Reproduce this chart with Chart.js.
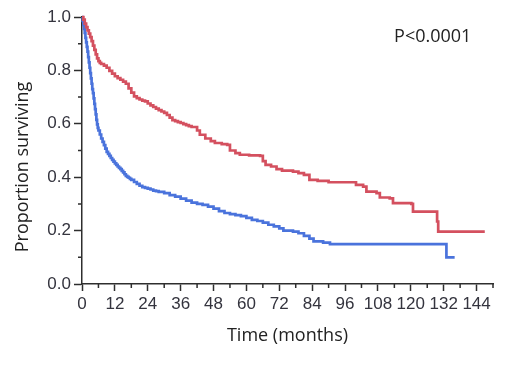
<!DOCTYPE html>
<html>
<head>
<meta charset="utf-8">
<script src="https://cdn.jsdelivr.net/npm/chart.js@4.4.0/dist/chart.umd.min.js"></script>
<style>
  html, body { margin: 0; padding: 0; background: #fff; }
  canvas { display: block; }
</style>
</head>
<body>
<canvas id="kmChart" width="520" height="370"></canvas>
<script>
// Kaplan-Meier curves (months, proportion surviving)
const redMonths = [0, 0.5, 1, 1.5, 2, 2.5, 3, 3.5, 4, 4.5, 5, 5.5, 6, 6.5, 7, 8, 9, 10, 11, 12,
  13, 14, 15, 16, 17, 18, 19, 20, 21, 22, 23, 24, 25, 26, 27, 28, 29, 30, 31, 32,
  33, 34, 35, 36, 37, 38, 39, 40, 42, 43, 45, 47, 48.5, 51, 53, 54, 56, 57.6, 61, 65,
  66, 67, 69, 71, 73, 77, 79, 81, 83, 86, 90, 100, 102.6, 103.8, 107.5, 108.7, 112.3, 113.5, 120.2, 120.8,
  129.6, 130, 147];
const redSurvival = [1, 0.99, 0.975, 0.962, 0.95, 0.938, 0.925, 0.91, 0.893, 0.877, 0.86, 0.845, 0.835, 0.828, 0.824, 0.818, 0.81, 0.798, 0.788, 0.778,
  0.771, 0.765, 0.758, 0.75, 0.733, 0.717, 0.703, 0.696, 0.691, 0.687, 0.684, 0.676, 0.669, 0.663, 0.657, 0.651, 0.646, 0.641, 0.633, 0.623,
  0.614, 0.61, 0.606, 0.603, 0.599, 0.595, 0.591, 0.588, 0.575, 0.559, 0.545, 0.535, 0.528, 0.524, 0.521, 0.5, 0.49, 0.484, 0.482, 0.48,
  0.46, 0.446, 0.44, 0.43, 0.425, 0.421, 0.415, 0.409, 0.39, 0.386, 0.381, 0.371, 0.365, 0.346, 0.34, 0.324, 0.321, 0.303, 0.3, 0.271,
  0.234, 0.196, 0.196];

const blueMonths = [0, 0.25, 0.5, 0.75, 1, 1.25, 1.5, 1.75, 2, 2.25, 2.5, 2.75, 3, 3.25, 3.5, 3.75, 4, 4.25, 4.5, 4.75,
  5, 5.25, 5.5, 5.75, 6, 6.5, 7, 7.5, 8, 8.5, 9, 9.5, 10, 10.5, 11, 11.5, 12, 12.5, 13, 13.5,
  14, 14.5, 15, 15.5, 16, 16.5, 17, 17.5, 18, 19, 20, 21, 22, 23, 24, 25, 26, 27, 28, 30,
  32, 34, 36, 38, 40, 42, 44, 46, 48, 50, 52, 54, 56, 58, 60, 62, 64, 66, 68, 70,
  72, 73.5, 77, 79, 81, 83, 84.5, 88, 90.5, 133, 136];
const blueSurvival = [1, 0.985, 0.97, 0.955, 0.94, 0.922, 0.905, 0.888, 0.87, 0.85, 0.83, 0.81, 0.79, 0.77, 0.75, 0.73, 0.715, 0.695, 0.675, 0.655,
  0.635, 0.615, 0.598, 0.585, 0.575, 0.56, 0.545, 0.532, 0.52, 0.507, 0.495, 0.487, 0.48, 0.472, 0.465, 0.458, 0.452, 0.446, 0.44, 0.435,
  0.43, 0.424, 0.418, 0.411, 0.405, 0.401, 0.398, 0.394, 0.39, 0.382, 0.375, 0.368, 0.363, 0.36, 0.357, 0.354, 0.35, 0.348, 0.345, 0.34,
  0.333, 0.327, 0.32, 0.312, 0.305, 0.3, 0.296, 0.29, 0.282, 0.273, 0.266, 0.262, 0.258, 0.254, 0.248, 0.24, 0.236, 0.23, 0.222, 0.216,
  0.208, 0.2, 0.196, 0.19, 0.18, 0.17, 0.16, 0.155, 0.149, 0.1, 0.1];

const xTickValues = [0, 12, 24, 36, 48, 60, 72, 84, 96, 108, 120, 132, 144];
const yTickValues = [0, 0.2, 0.4, 0.6, 0.8, 1.0];
const xMinorTicks = [6, 18, 30, 42, 54, 66, 78, 90, 102, 114, 126, 138, 150];
const yMinorTicks = [0.1, 0.3, 0.5, 0.7, 0.9];

const xTitle = 'Time (months)';
const yTitle = 'Proportion surviving';
const pValueLabel = 'P<0.0001';

const axisColor = '#2e2e2e';
const labelColor = '#34343e';

const toPoints = (xs, ys) => xs.map((x, i) => ({ x: x, y: ys[i] }));

// minor ticks, y title and p value
const extraMarks = {
  id: 'extraMarks',
  afterDraw(chart) {
    const ctx = chart.ctx;
    const xs = chart.scales.x;
    const ys = chart.scales.y;
    ctx.save();
    ctx.strokeStyle = axisColor;
    ctx.lineWidth = 1.5;
    ctx.beginPath();
    xMinorTicks.forEach(m => {
      const px = xs.getPixelForValue(m);
      ctx.moveTo(px, ys.bottom);
      ctx.lineTo(px, ys.bottom + 4);
    });
    yMinorTicks.forEach(v => {
      const py = ys.getPixelForValue(v);
      ctx.moveTo(xs.left, py);
      ctx.lineTo(xs.left - 4, py);
    });
    ctx.stroke();

    ctx.fillStyle = '#222';
    ctx.font = '18px "Open Sans"';
    ctx.textAlign = 'center';
    ctx.textBaseline = 'middle';
    ctx.save();
    ctx.translate(23, 167);
    ctx.rotate(-Math.PI / 2);
    ctx.fillText(yTitle, 0, 0);
    ctx.restore();

    ctx.fillText(pValueLabel, xs.getPixelForValue(128), ys.getPixelForValue(0.925));
    ctx.restore();
  }
};

const ctx = document.getElementById('kmChart').getContext('2d');
const kmChart = new Chart(ctx, {
  type: 'line',
  data: {
    datasets: [
      {
        label: 'red',
        data: toPoints(redMonths, redSurvival),
        borderColor: '#d4505f',
        borderWidth: 2.7,
        stepped: true,
        pointRadius: 0,
        fill: false,
        clip: false
      },
      {
        label: 'blue',
        data: toPoints(blueMonths, blueSurvival),
        borderColor: '#4a73dc',
        borderWidth: 2.7,
        stepped: true,
        pointRadius: 0,
        fill: false,
        clip: false
      }
    ]
  },
  options: {
    responsive: false,
    animation: false,
    layout: { padding: { top: 17, right: 27, left: 0, bottom: 0 } },
    plugins: {
      legend: { display: false },
      tooltip: { enabled: false }
    },
    scales: {
      x: {
        type: 'linear',
        min: 0,
        max: 150,
        afterBuildTicks: scale => { scale.ticks = xTickValues.map(v => ({ value: v })); },
        afterFit: scale => { scale.height = 86; },
        grid: { display: true, drawOnChartArea: false, drawTicks: true, tickLength: 7, tickColor: axisColor, tickWidth: 1.5 },
        border: { color: axisColor, width: 1.5 },
        ticks: {
          color: labelColor,
          padding: 3,
          maxRotation: 0,
          autoSkip: false,
          font: { family: '"Liberation Sans", Arial, sans-serif', size: 17 }
        },
        title: {
          display: true,
          text: xTitle,
          color: '#222',
          font: { family: '"Open Sans"', size: 18 },
          padding: { top: 0, bottom: 23 }
        }
      },
      y: {
        min: 0,
        max: 1,
        afterBuildTicks: scale => { scale.ticks = yTickValues.map(v => ({ value: v })); },
        afterFit: scale => { scale.width = 82; },
        grid: { display: true, drawOnChartArea: false, drawTicks: true, tickLength: 8, tickColor: axisColor, tickWidth: 1.5 },
        border: { color: axisColor, width: 1.5 },
        ticks: {
          color: labelColor,
          padding: 3,
          callback: v => v.toFixed(1),
          font: { family: '"Liberation Sans", Arial, sans-serif', size: 17 }
        }
      }
    }
  },
  plugins: [extraMarks]
});
</script>
</body>
</html>
